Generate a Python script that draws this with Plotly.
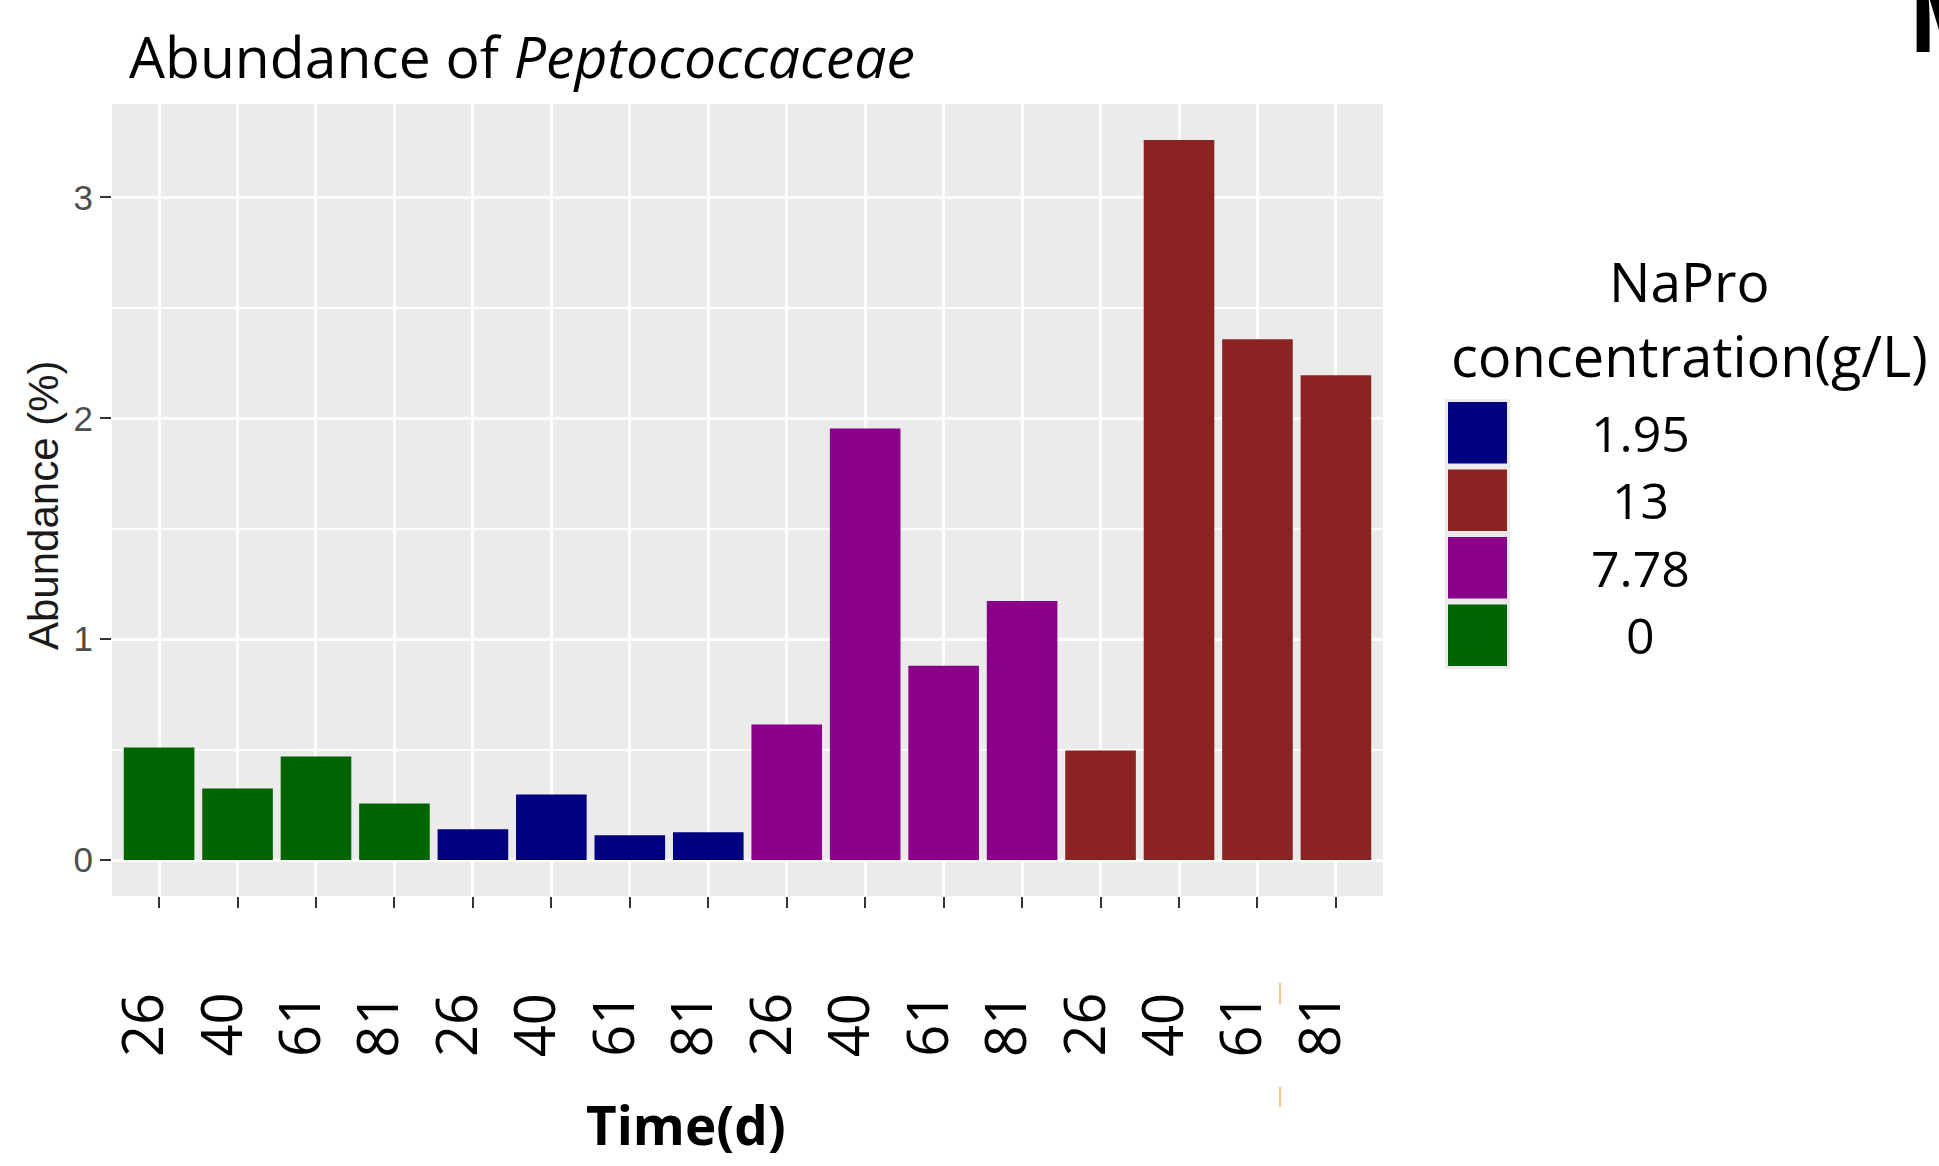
import plotly.graph_objects as go

# ---------------- data ----------------
days = ["26", "40", "61", "81", "26", "40", "61", "81",
        "26", "40", "61", "81", "26", "40", "61", "81"]
napro = ["0", "0", "0", "0", "1.95", "1.95", "1.95", "1.95",
         "7.78", "7.78", "7.78", "7.78", "13", "13", "13", "13"]
abundance = [0.509, 0.324, 0.469, 0.256,
             0.139, 0.297, 0.112, 0.126,
             0.613, 1.954, 0.879, 1.173,
             0.496, 3.260, 2.358, 2.195]
legend_order = ["1.95", "13", "7.78", "0"]
group_colors = {"0": "#006400", "1.95": "#000080", "7.78": "#8B008B", "13": "#8B2323"}
y_ticks = [0, 1, 2, 3]
y_minor = [0.5, 1.5, 2.5]

# ---------------- geometry helpers (pixels -> paper) ----------------
W, H = 1939, 1166
L, T, R, B = 112, 104, 1383, 896


def px_x(px):
    return (px - L) / (R - L)


def px_y(py):
    return (B - py) / (B - T)


positions = list(range(len(days)))

fig = go.Figure()
for g in ["0", "1.95", "7.78", "13"]:
    xs = [p for p, n in zip(positions, napro) if n == g]
    ys = [v for v, n in zip(abundance, napro) if n == g]
    fig.add_trace(go.Bar(x=xs, y=ys, width=0.9, name=g,
                         marker=dict(color=group_colors[g], line=dict(width=0)),
                         showlegend=False))

ymax = max(abundance)
fig.update_layout(
    width=W, height=H, autosize=False,
    margin=dict(l=L, r=W - R, t=T, b=H - B, pad=0),
    paper_bgcolor="white", plot_bgcolor="#EBEBEB",
    barmode="overlay",
    xaxis=dict(range=[-0.6, len(days) - 0.4], tickmode="array", tickvals=positions,
               showticklabels=False, ticks="outside", ticklen=11, tickwidth=2,
               tickcolor="#333333", showgrid=True, gridcolor="white", gridwidth=2.6,
               zeroline=False, showline=False),
    yaxis=dict(range=[-0.05 * ymax, 1.05 * ymax], tickmode="array", tickvals=y_ticks,
               ticktext=[str(v) for v in y_ticks],
               tickfont=dict(family="Liberation Sans", size=35, color="#4D4D4D"),
               ticks="outside", ticklen=11, tickwidth=2, tickcolor="#333333",
               showgrid=True, gridcolor="white", gridwidth=2.6, zeroline=False,
               minor=dict(tickmode="array", tickvals=y_minor, showgrid=True,
                          gridcolor="white", gridwidth=2.2, ticks="")),
)

ann = []
# x tick labels (rotated)
for p, d in zip(positions, days):
    ann.append(dict(x=p, y=px_y(1025), xref="x", yref="paper", text=d, showarrow=False,
                    textangle=-90, xanchor="center", yanchor="middle", xshift=-18,
                    font=dict(family="Open Sans", size=56, color="black")))
# title
ann.append(dict(x=px_x(127), y=px_y(56), xref="paper", yref="paper",
                text="Abundance of <i>Peptococcaceae</i>", showarrow=False,
                xanchor="left", yanchor="middle",
                font=dict(family="Open Sans", size=57, color="black")))
# axis titles
ann.append(dict(x=px_x(44), y=px_y(505), xref="paper", yref="paper",
                text="Abundance (%)", showarrow=False, textangle=-90,
                xanchor="center", yanchor="middle",
                font=dict(family="Liberation Sans", size=42, color="#1A1A1A")))
ann.append(dict(x=px_x(686), y=px_y(1124), xref="paper", yref="paper",
                text="<b>Time(d)</b>", showarrow=False, xanchor="center", yanchor="middle",
                font=dict(family="Open Sans", size=53, color="black")))
# legend title
ann.append(dict(x=px_x(1689), y=px_y(280), xref="paper", yref="paper", text="NaPro",
                showarrow=False, xanchor="center", yanchor="middle",
                font=dict(family="Open Sans", size=55, color="black")))
ann.append(dict(x=px_x(1689), y=px_y(355), xref="paper", yref="paper",
                text="concentration(g/L)", showarrow=False, xanchor="center", yanchor="middle",
                font=dict(family="Open Sans", size=56, color="black")))

shapes = []
# legend key background
shapes.append(dict(type="rect", xref="paper", yref="paper",
                   x0=px_x(1445), x1=px_x(1510), y0=px_y(669), y1=px_y(399),
                   fillcolor="#EBEBEB", line=dict(width=0)))
key_h = 67.5
for i, g in enumerate(legend_order):
    top = 399 + i * key_h
    shapes.append(dict(type="rect", xref="paper", yref="paper",
                       x0=px_x(1448), x1=px_x(1507), y0=px_y(top + key_h - 3), y1=px_y(top + 3),
                       fillcolor=group_colors[g], line=dict(width=0)))
    ann.append(dict(x=px_x(1641), y=px_y(top + key_h / 2), xref="paper", yref="paper",
                    text=g, showarrow=False, xanchor="center", yanchor="middle",
                    height=62, valign="middle",
                    font=dict(family="Open Sans", size=50, color="black")))

# stray orange marks and cut-off letter seen in the source image
for y0, y1 in [(983, 1004), (1087, 1107)]:
    shapes.append(dict(type="line", xref="paper", yref="paper",
                       x0=px_x(1280), x1=px_x(1280), y0=px_y(y0), y1=px_y(y1),
                       line=dict(color="#F8C58A", width=2)))
ann.append(dict(x=px_x(1906), y=px_y(82), xref="paper", yref="paper", text="<b>M</b>",
                showarrow=False, xanchor="left", yanchor="bottom",
                font=dict(family="Open Sans", size=96, color="black")))

fig.update_layout(annotations=ann, shapes=shapes)

fig.write_html("out.html", config={"displayModeBar": False},
               post_script="document.body.style.margin='0';")
